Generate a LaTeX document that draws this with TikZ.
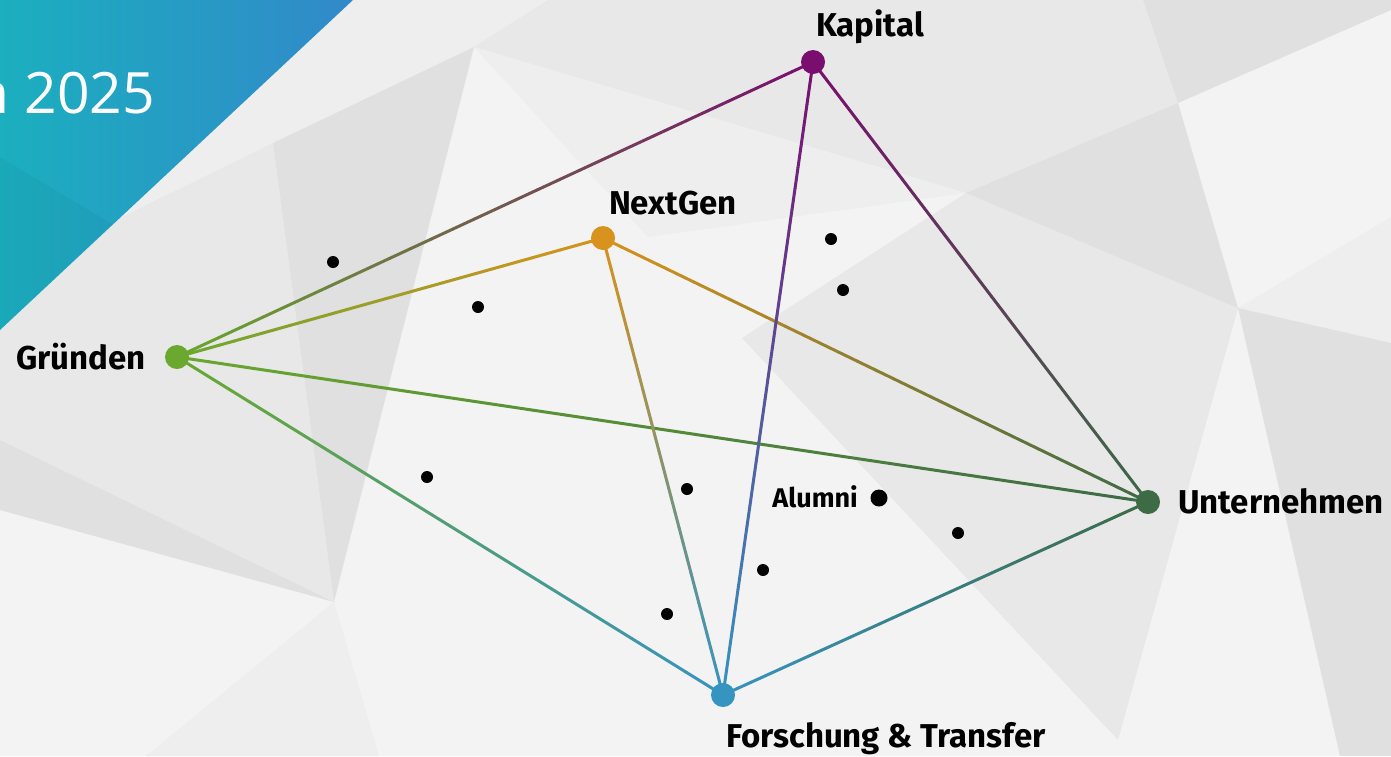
\documentclass[tikz,border=0pt]{standalone}
\usepackage{fontspec}
\setmainfont{Fira Sans}
\newfontfamily\yearfont{Open Sans}
\usetikzlibrary{calc}
\definecolor{kap}{HTML}{7A0E6E}
\definecolor{nxt}{HTML}{D8921E}
\definecolor{grn}{HTML}{6AA82F}
\definecolor{unt}{HTML}{3D6B45}
\definecolor{fot}{HTML}{3694C0}
\definecolor{bgA}{HTML}{F3F3F3}
\definecolor{bgB}{HTML}{E8E8E8}
\definecolor{bgC}{HTML}{DFE0DF}
\definecolor{bgD}{HTML}{EEEEEE}
\definecolor{tealA}{HTML}{1BAFBF}
\definecolor{tealB}{HTML}{1AA6C6}
\definecolor{tealC}{HTML}{3189C9}
\newcommand\gradline[4]{%
  \foreach \i in {0,...,29}{%
    \pgfmathtruncatemacro\p{100*(\i+0.5)/30}%
    \draw[edge, draw={#4!\p!#3}] ($(#1)!{\i/30}!(#2)$) -- ($(#1)!{(\i+1)/30}!(#2)$);
  }}
\begin{document}
\begin{tikzpicture}[x=1pt,y=-1pt,
  edge/.style={line width=3pt, line cap=round},
  hub/.style={circle, inner sep=0pt, minimum size=24pt},
  smalldot/.style={circle, fill=black, inner sep=0pt, minimum size=12pt},
  lab/.style={font=\bfseries\fontsize{33}{38}\selectfont, text=black, inner sep=0pt}]
\useasboundingbox (0,0) rectangle (1391,756);
% ---------- background ----------
\fill[bgA] (0,0) rectangle (1391,756);
\fill[bgD] (353,0) -- (500,0) -- (474,47) -- (110,223) -- cycle;
\fill[bgD] (500,0) -- (548,0) -- (474,47) -- cycle;
\fill[bgB] (110,223) -- (273,143) -- (334,602) -- (0,440) -- (0,330) -- cycle;
\fill[bgC] (273,143) -- (474,47) -- (334,602) -- cycle;
\fill[bgC] (0,440) -- (334,602) -- (0,510) -- cycle;
\fill[bgD] (146,756) -- (334,602) -- (379,756) -- cycle;
\fill[bgB] (474,47) -- (548,0) -- (1143,0) -- (1178,103) -- (966,193) -- cycle;
\fill[bgD] (474,47) -- (966,193) -- (648,237) -- cycle;
\fill[bgB] (742,338) -- (966,193) -- (1238,308) -- (1118,740) -- cycle;
\fill[bgC] (966,193) -- (1178,103) -- (1238,308) -- cycle;
\fill[bgC] (1178,103) -- (1143,0) -- (1391,0) -- (1391,10) -- cycle;
\fill[bgD] (1238,308) -- (1391,217) -- (1391,343) -- cycle;
\fill[bgC] (1238,308) -- (1391,343) -- (1391,756) -- (1340,756) -- cycle;
% teal corner
\shade[left color=tealA, middle color=tealB, right color=tealC] (0,0) -- (353,0) -- (0,330) -- cycle;
\fill[black, opacity=0.03] (0,157) -- (112,224) -- (0,330) -- cycle;
\node[anchor=base east, text=white, font=\yearfont\fontsize{57}{60}\selectfont, inner sep=0pt] (year) at (155,113) {n 2025};
% ---------- hubs ----------
\coordinate (K) at (813,62);
\coordinate (N) at (603,238);
\coordinate (G) at (177,357);
\coordinate (U) at (1148,502);
\coordinate (F) at (723,695);
% ---------- connectors ----------
\gradline{G}{K}{grn}{kap}
\gradline{G}{N}{grn}{nxt}
\gradline{G}{U}{grn}{unt}
\gradline{G}{F}{grn}{fot}
\gradline{N}{U}{nxt}{unt}
\gradline{N}{F}{nxt}{fot}
\gradline{K}{F}{kap}{fot}
\gradline{K}{U}{kap}{unt}
\gradline{F}{U}{fot}{unt}
% ---------- hub dots ----------
\node[hub, fill=kap] (Kdot) at (K) {};
\node[hub, fill=nxt] (Ndot) at (N) {};
\node[hub, fill=grn] (Gdot) at (G) {};
\node[hub, fill=unt] (Udot) at (U) {};
\node[hub, fill=fot] (Fdot) at (F) {};
% ---------- labels ----------
\node[lab, anchor=base] (KL) at (870,36) {Kapital};
\node[lab, anchor=base] (NL) at (673,214) {NextGen};
\node[lab, anchor=base east] (GL) at (146,369) {Gründen};
\node[lab, anchor=base west] (UL) at (1178,513) {Unternehmen};
\node[lab, anchor=base west] (FL) at (726,747) {Forschung \& Transfer};
% ---------- alumni ----------
\node[circle, fill=black, inner sep=0pt, minimum size=17pt] (A) at (879,498) {};
\node[lab, font=\bfseries\fontsize{27}{31}\selectfont, anchor=base east] (AL) at (858,507) {Alumni};
% ---------- small dots ----------
\node[smalldot] (d1) at (333,262) {};
\node[smalldot] (d2) at (478,307) {};
\node[smalldot] (d3) at (831,239) {};
\node[smalldot] (d4) at (843,290) {};
\node[smalldot] (d5) at (427,477) {};
\node[smalldot] (d6) at (687,489) {};
\node[smalldot] (d7) at (958,533) {};
\node[smalldot] (d8) at (763,570) {};
\node[smalldot] (d9) at (667,614) {};
\end{tikzpicture}
\end{document}
